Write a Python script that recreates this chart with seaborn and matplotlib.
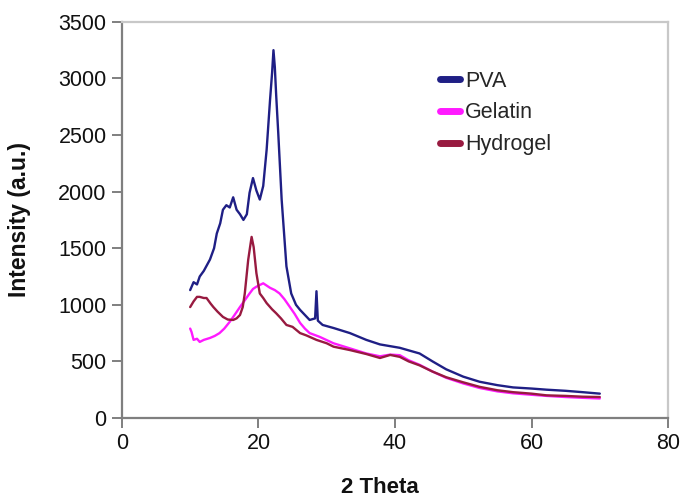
import matplotlib
matplotlib.use("Agg")
import matplotlib.pyplot as plt
import seaborn as sns
import pandas as pd
from matplotlib.lines import Line2D

sns.set_theme(style="white")
plt.rcParams['font.family'] = ['Liberation Sans', 'DejaVu Sans']

# Values (2 theta in degrees, intensity in a.u.)
pva_x = [10.0, 10.5, 11.0, 11.4, 12.0, 12.9, 13.5, 13.9, 14.4, 14.8, 15.3, 15.8,
         16.3, 16.8, 17.3, 17.8, 18.3, 18.7, 19.2, 19.7, 20.2, 20.7, 21.2, 21.7,
         22.0, 22.2, 22.4, 22.6, 22.9, 23.4, 24.1, 24.8, 25.5, 26.1, 27.5, 28.3,
         28.5, 28.7, 29.4, 31.0, 33.4, 35.8, 37.8, 40.7, 43.6, 45.5, 47.5, 50.0,
         52.4, 55.0, 57.3, 60.0, 62.2, 65.0, 67.5, 70.0]
pva_y = [1130, 1200, 1180, 1250, 1300, 1400, 1500, 1630, 1720, 1840, 1880, 1860,
         1950, 1840, 1800, 1750, 1800, 1990, 2120, 2010, 1930, 2050, 2370, 2810,
         3050, 3250, 3100, 2850, 2520, 1930, 1340, 1100, 1000, 955, 866, 880,
         1120, 860, 822, 795, 750, 690, 650, 620, 570, 500, 430, 365,
         320, 290, 270, 260, 250, 240, 228, 215]

gel_x = [10.0, 10.2, 10.5, 11.0, 11.4, 12.0, 12.9, 13.6, 14.3, 15.0, 15.8, 16.5,
         17.3, 18.0, 18.7, 19.2, 19.7, 20.2, 20.7, 21.2, 21.7, 22.4, 23.1, 23.8,
         24.6, 25.3, 26.1, 26.8, 27.5, 29.0, 31.0, 33.4, 35.8, 37.8, 39.3, 40.7,
         42.0, 43.6, 45.5, 47.5, 50.0, 52.4, 55.0, 57.3, 60.0, 62.2, 65.0, 67.5, 70.0]
gel_y = [790, 760, 690, 700, 672, 690, 707, 725, 750, 790, 850, 910,
         981, 1040, 1100, 1140, 1160, 1175, 1190, 1170, 1150, 1130, 1100, 1050,
         981, 920, 840, 790, 750, 716, 660, 615, 570, 545, 560, 555,
         510, 470, 410, 355, 305, 265, 235, 218, 205, 195, 185, 178, 172]

hyd_x = [10.0, 10.5, 11.0, 11.4, 12.0, 12.4, 13.0, 13.4, 14.0, 14.8, 15.5, 16.3,
         16.8, 17.3, 17.7, 18.0, 18.5, 18.8, 19.0, 19.3, 19.7, 20.2, 20.7, 21.2,
         22.0, 22.6, 23.3, 24.1, 25.0, 26.1, 27.0, 28.5, 30.0, 31.0, 33.4, 35.8,
         37.8, 39.3, 40.7, 42.0, 43.6, 45.5, 47.5, 50.0, 52.4, 55.0, 57.3, 60.0,
         62.2, 65.0, 67.5, 70.0]
hyd_y = [980, 1030, 1070, 1070, 1060, 1060, 1010, 980, 940, 893, 870, 866,
         880, 910, 980, 1100, 1397, 1520, 1600, 1510, 1280, 1100, 1060, 1015,
         960, 925, 880, 822, 805, 750, 730, 690, 660, 630, 600, 565,
         530, 557, 540, 500, 465, 410, 360, 315, 275, 245, 228, 215,
         200, 195, 188, 185]

series_names = ["PVA", "Gelatin", "Hydrogel"]
series_colors = ["#1f1f85", "#ff1aff", "#981a40"]

frames = []
for name, xs, ys in zip(series_names, [pva_x, gel_x, hyd_x], [pva_y, gel_y, hyd_y]):
    frames.append(pd.DataFrame({"theta": xs, "intensity": ys, "sample": name}))
df = pd.concat(frames, ignore_index=True)

fig = plt.figure(figsize=(6.81, 4.97), dpi=100)
ax = fig.add_axes([0.179, 0.159, 0.802, 0.797])

# draw PVA last so it sits on top like in the original
for name, color in zip(["Gelatin", "Hydrogel", "PVA"], [series_colors[1], series_colors[2], series_colors[0]]):
    sns.lineplot(data=df[df["sample"] == name], x="theta", y="intensity",
                 color=color, linewidth=1.7, sort=False, estimator=None, ax=ax)

ax.set_xlim(0, 80)
ax.set_ylim(0, 3500)
ax.set_xticks([0, 20, 40, 60, 80])
ax.set_yticks(range(0, 3501, 500))

for side in ["left", "bottom"]:
    ax.spines[side].set_color("#7f7f7f")
    ax.spines[side].set_linewidth(1.6)
for side in ["top", "right"]:
    ax.spines[side].set_color("#c8c8c8")
    ax.spines[side].set_linewidth(1.6)

ax.tick_params(axis="both", direction="out", length=7, width=1.4, color="#7f7f7f",
               labelsize=15.5, labelcolor="#111111", pad=4)
ax.tick_params(axis="x", bottom=True)
ax.tick_params(axis="y", left=True)

ax.set_xlabel("2 Theta", fontsize=16, fontweight="bold", color="#111111")
ax.set_ylabel("Intensity (a.u.)", fontsize=16.5, fontweight="bold", color="#111111")
ax.xaxis.set_label_coords(0.473, -0.148)
ax.yaxis.set_label_coords(-0.167, 0.5)

handles = [Line2D([0], [0], color=c, linewidth=5, solid_capstyle="round") for c in series_colors]
ax.legend(handles, series_names, loc="upper left", bbox_to_anchor=(0.583, 0.877),
          frameon=False, fontsize=15.5, handlelength=0.9, handletextpad=0.25,
          labelspacing=0.5, borderpad=0, borderaxespad=0)

fig.savefig("out.png", dpi=100)
